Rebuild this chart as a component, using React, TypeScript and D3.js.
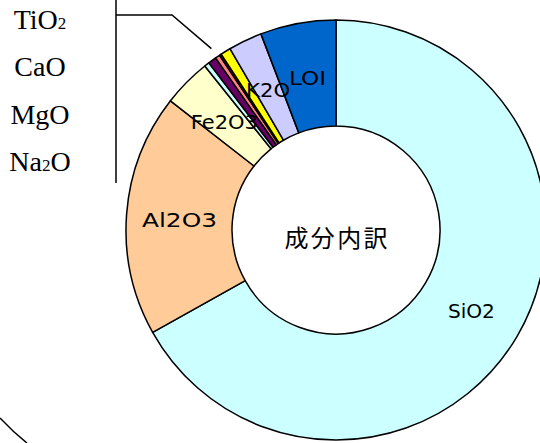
import { useMemo } from 'react';
import * as d3 from 'd3';

// oxide composition (%), clockwise from 12 o'clock
const oxides = ['SiO2', 'Al2O3', 'Fe2O3', 'TiO2', 'CaO', 'MgO', 'MnO', 'Na2O', 'K2O', 'LOI'];
const shares = [66.7, 18.6, 3.7, 0.39, 0.63, 0.36, 0.15, 0.78, 2.6, 5.8];
const fills = ['#CCFFFF', '#FFCC99', '#FFFFCC', '#CCFFFF', '#660066', '#FF8080', '#660066', '#FFFF00', '#CCCCFF', '#0066CC'];
// slices that get a label inside the ring
const ringLabels = ['SiO2', 'Al2O3', 'Fe2O3', 'K2O', 'LOI'];
// small slices listed on the left with a leader line: [text, subscript] pieces
const sideLabels: [string, string][][] = [
  [['TiO', '2']],
  [['CaO', '']],
  [['MgO', '']],
  [['Na', '2'], ['O', '']],
];
const smallOxides = ['TiO2', 'CaO', 'MgO', 'MnO', 'Na2O'];
const centerTitle = '成分内訳';

const width = 540;
const height = 443;
const cx = 336;
const cy = 230;
const outerR = 210;
const innerR = 104;

// label widths in the original gothic face are wider than our sans
const labelLen: Record<string, number> = { SiO2: 47, Al2O3: 75, Fe2O3: 67, K2O: 44, LOI: 37 };

const App = () => {
  const data = useMemo(() => oxides.map((k, i) => ({ key: k, value: shares[i], fill: fills[i] })), []);

  const arcs = useMemo(() => {
    return d3.pie<any>()
      .sort(null)
      .value(d => d.value)
      .startAngle(0)
      .endAngle(2 * Math.PI)(data);
  }, [data]);

  const arcGen = d3.arc<any>().innerRadius(innerR).outerRadius(outerR);

  // leader line end: middle of the small oxide group, just outside the ring
  const small = arcs.filter(a => smallOxides.includes(a.data.key));
  const midA = (small[0].startAngle + small[small.length - 1].endAngle) / 2;
  const lx = cx + (outerR + 10) * Math.sin(midA);
  const ly = cy - (outerR + 10) * Math.cos(midA);

  const yScale = d3.scalePoint<number>()
    .domain(d3.range(sideLabels.length))
    .range([29, 171]);

  return (
    <svg width={width} height={height} style={{ position: 'absolute', left: 0, top: 0, background: '#fff' }}>
      <g transform={`translate(${cx}, ${cy})`}>
        {arcs.map((a, i) => (
          <path
            key={i}
            d={arcGen(a) as string}
            fill={a.data.fill}
            stroke="#000"
            strokeWidth={1.5}
            strokeLinejoin="round"
          />
        ))}
        {arcs.filter(a => ringLabels.includes(a.data.key)).map((a, i) => {
          const [x, y] = arcGen.centroid(a);
          return (
            <text
              key={i}
              x={x}
              y={y + 2}
              textAnchor="middle"
              dominantBaseline="central"
              fontFamily="'DejaVu Sans', sans-serif"
              fontSize={20}
              textLength={labelLen[a.data.key]}
              lengthAdjust="spacingAndGlyphs"
              fill="#000"
            >
              {a.data.key}
            </text>
          );
        })}
        <text
          x={0}
          y={6}
          textAnchor="middle"
          dominantBaseline="central"
          fontFamily="'Noto Sans CJK JP', sans-serif"
          fontSize={24}
          textLength={103}
          fill="#000"
        >
          {centerTitle}
        </text>
      </g>

      {/* leader bracket for the small slices */}
      <path
        d={`M116,0 L116,183 M116,15 L172,15 L${lx},${ly}`}
        fill="none"
        stroke="#000"
        strokeWidth={1.5}
      />
      {sideLabels.map((pieces, i) => (
        <text
          key={i}
          x={40}
          y={yScale(i)}
          textAnchor="middle"
          fontFamily="'Liberation Serif', serif"
          fontSize={28}
          fill="#000"
        >
          {pieces.map(([txt, sub], j) => (
            <tspan key={j}>
              {txt}
              {sub ? <tspan fontSize={17}>{sub}</tspan> : null}
            </tspan>
          ))}
        </text>
      ))}

      {/* edge of the outer frame */}
      <path d="M0,418 Q13,432 27,443" fill="none" stroke="#000" strokeWidth={1.5} />
    </svg>
  );
};

export default App;
